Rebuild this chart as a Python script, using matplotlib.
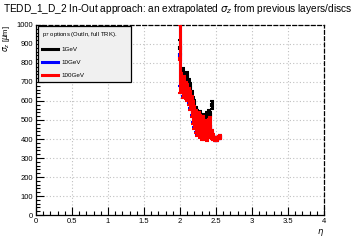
import numpy as np
import matplotlib
matplotlib.use("Agg")
import matplotlib.pyplot as plt
from matplotlib.ticker import MultipleLocator

# ---- data ----
eta = [2.00, 2.02, 2.04, 2.06, 2.08, 2.10, 2.12, 2.14, 2.16, 2.18, 2.20, 2.22,
       2.24, 2.26, 2.28, 2.30, 2.32, 2.34, 2.36, 2.38, 2.40, 2.42, 2.44, 2.46,
       2.48, 2.50, 2.52, 2.54, 2.56]
sig_1gev = [880, 740, 745, 720, 700, 725, 690, 670, 630, 600, 585, 555,
            540, 520, 530, 510, 515, 520, 505, 525, 540, 525, 580, None,
            None, None, None, None, None]
err_1gev = [40, 30, 30, 25, 25, 25, 25, 25, 20, 20, 20, 15,
            15, 15, 15, 12, 12, 12, 12, 15, 15, 15, 20, None,
            None, None, None, None, None]
sig_10gev = [840, 700, 670, 690, 660, 650, 630, 610, 575, 545, 520, 490,
             475, 480, 465, 450, 465, 445, 450, 440, 455, 465, 425, 410,
             400, 398, 402, 408, 412]
err_10gev = [160, 45, 45, 40, 40, 40, 40, 45, 50, 55, 55, 55,
             55, 55, 55, 50, 50, 45, 45, 40, 45, 45, 25, 15,
             12, 10, 10, 10, 10]
sig_100gev = [820, 695, 665, 685, 655, 645, 625, 600, 570, 540, 515, 490,
              475, 480, 465, 450, 465, 445, 450, 435, 455, 465, 425, 410,
              400, 398, 402, 408, 412]
err_100gev = [180, 50, 50, 45, 45, 45, 45, 50, 55, 60, 60, 60,
              60, 60, 60, 55, 55, 50, 50, 45, 50, 50, 25, 15,
              12, 10, 10, 10, 10]
labels = ["1GeV", "10GeV", "100GeV"]
colors = ["#000000", "#0000ff", "#ff0000"]
series = [(sig_1gev, err_1gev), (sig_10gev, err_10gev), (sig_100gev, err_100gev)]
bin_half = 0.01

plt.rcParams['font.family'] = ['Liberation Sans', 'DejaVu Sans']

fig = plt.figure(figsize=(3.6, 2.4), dpi=100)
ax = fig.add_axes([0.1, 0.104, 0.8, 0.792])
ax.set_xlim(0, 4)
ax.set_ylim(0, 1000)

for (s, e), c, lab in zip(series, colors, labels):
    xs = [x for x, v in zip(eta, s) if v is not None]
    vs = [v for v in s if v is not None]
    es = [v for v in e if v is not None]
    ax.errorbar(xs, vs, yerr=es, xerr=bin_half, fmt='none', ecolor=c,
                elinewidth=2.2, capsize=1.5, capthick=1.5, zorder=3)
    ax.plot([], [], color=c, lw=2.2, label=lab)

ax.xaxis.set_major_locator(MultipleLocator(0.5))
ax.xaxis.set_minor_locator(MultipleLocator(0.1))
ax.yaxis.set_major_locator(MultipleLocator(100))
ax.yaxis.set_minor_locator(MultipleLocator(20))
ax.tick_params(which='both', direction='in', labelsize=5.5, width=0.8,
               top=False, right=False, pad=2)
ax.tick_params(which='major', length=6)
ax.tick_params(which='minor', length=3)
ax.set_xticks(np.arange(0, 4.01, 0.5))
ax.set_xticklabels(["0", "0.5", "1", "1.5", "2", "2.5", "3", "3.5", "4"])
ax.grid(True, which='major', color='#c0c0c0', linestyle=(0, (1, 2)), lw=0.8)

for sp in ['top', 'right']:
    ax.spines[sp].set_linestyle((0, (3, 2)))
for sp in ax.spines.values():
    sp.set_linewidth(0.9)

fig.text(0.494, 0.963, r"TEDD_1_D_2 In-Out approach: an extrapolated $\sigma_z$ from previous layers/discs",
         ha='center', va='center', fontsize=7.3)
fig.text(0.018, 0.84, r"$\sigma_z$ [$\mu$m]", rotation=90, ha='center', va='center', fontsize=5.5)
fig.text(0.889, 0.033, r"$\eta$", ha='center', va='center', fontsize=6)

leg = ax.legend(loc='upper left', bbox_to_anchor=(0.007, 0.995, 0.323, 0.0),
                mode='expand', fontsize=4.5,
                title=r"p$_T$ options (OutIn, full TRK).", title_fontsize=4.3,
                frameon=True, fancybox=False, edgecolor='black', facecolor='#f0f0f0',
                framealpha=1, handlelength=2.6, labelspacing=1.25, borderpad=0.6,
                handletextpad=0.5, borderaxespad=0)
leg._legend_box.align = "left"
leg.get_frame().set_linewidth(0.9)
leg.set_zorder(5)

fig.savefig("out.png", dpi=100)
